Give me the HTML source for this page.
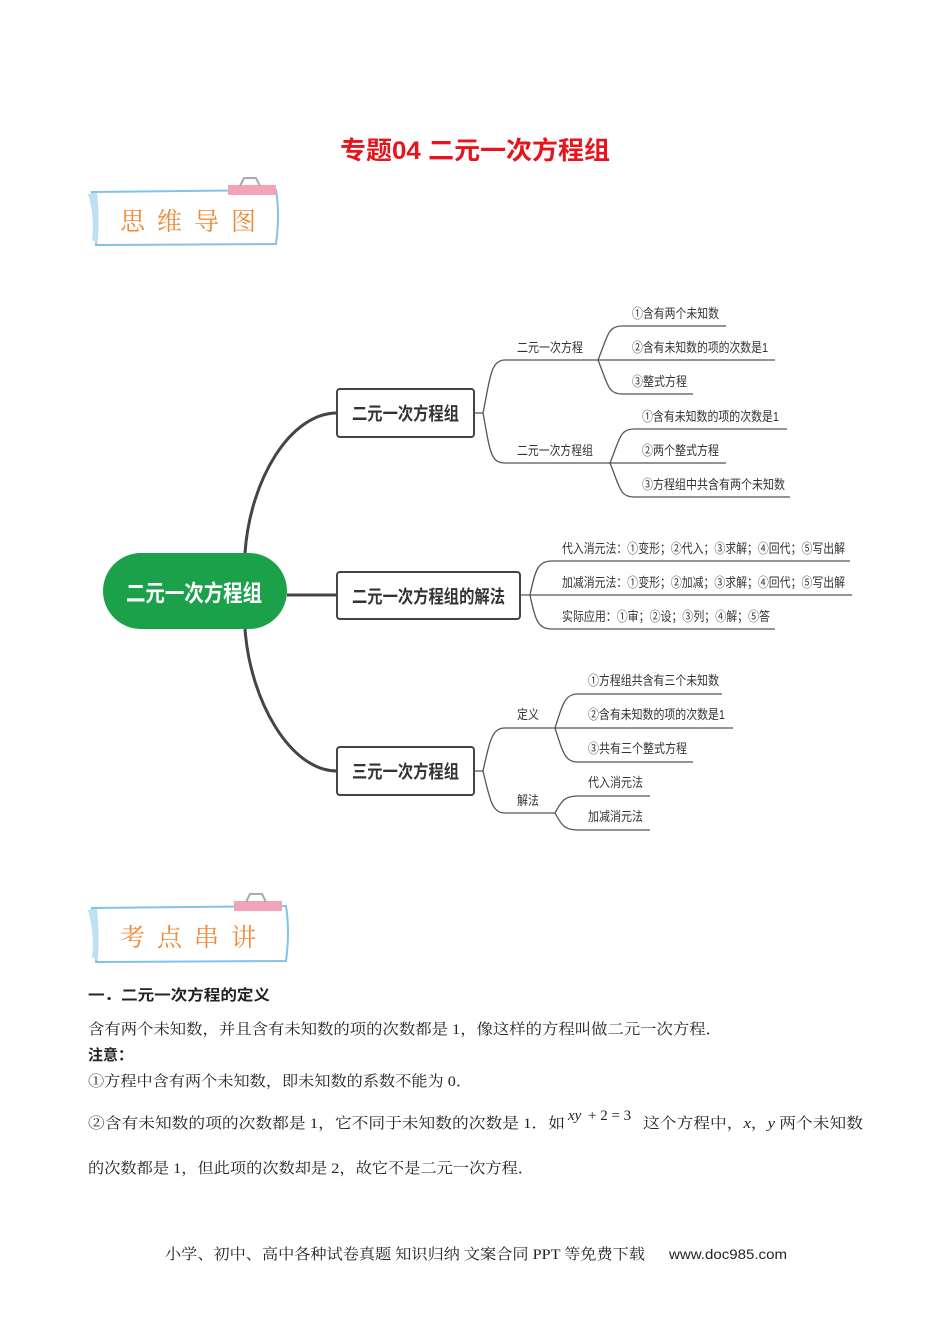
<!DOCTYPE html>
<html><head><meta charset="utf-8"><style>
html,body{margin:0;padding:0;background:#fff;}
svg{display:block;}
.s{font-family:"Liberation Sans","Noto Sans CJK SC",sans-serif;fill:#333;}
.r{font-family:"Liberation Serif","Noto Serif CJK SC",serif;fill:#222;font-size:15px;}
.b{font-family:"Liberation Sans","Noto Sans CJK SC",sans-serif;font-weight:bold;fill:#222;font-size:15px;}
.ban{font-family:"Noto Serif CJK SC",serif;fill:#ee8a3a;font-size:25px;}
</style></head><body>
<svg width="950" height="1344" viewBox="0 0 950 1344" xmlns="http://www.w3.org/2000/svg">
<text x="340" y="159" textLength="270" lengthAdjust="spacingAndGlyphs" font-family="Liberation Sans,Noto Sans CJK SC,sans-serif" font-weight="bold" font-size="25" fill="#e8141c">专题04  二元一次方程组</text>

<!-- banner 1 -->
<g>
<path d="M92 192 L276 190 Q280 215 276 244 L96 245 Q100 218 92 192 Z" fill="#fff" stroke="#7fc3e8" stroke-width="2"/>
<path d="M88 194 L97 193 Q100 218 97 243 L92 240 Q95 218 88 194Z" fill="#bde0f5"/>
<rect x="228" y="185" width="48" height="10" fill="#f3a3b8"/>
<path d="M240 186 L244 178 L256 178 L260 186" fill="none" stroke="#aaa" stroke-width="2"/>
<text x="120" y="230" class="ban" letter-spacing="12">思维导图</text>
</g>

<!-- mind map connectors -->
<g fill="none" stroke="#444" stroke-width="3">
<path d="M245 553 C250 480 290 413 337 413"/>
<path d="M245 629 C250 700 290 771 337 771"/>
<path d="M287 595 L337 595"/>
</g>
<g fill="none" stroke="#555" stroke-width="1.3">
<path d="M474 413 L483 413 C490 380 490 360 505 360 L598 360"/>
<path d="M483 413 C490 450 490 463 505 463 L610 463"/>
<path d="M598 360 C608 335 608 326 622 326 L726 326"/>
<path d="M598 360 L775 360"/>
<path d="M598 360 C608 385 608 394 622 394 L693 394"/>
<path d="M610 463 C620 438 620 429 634 429 L787 429"/>
<path d="M610 463 L726 463"/>
<path d="M610 463 C620 488 620 497 634 497 L790 497"/>
<path d="M520 595 L530 595 C535 570 538 561 552 561 L850 561"/>
<path d="M530 595 L852 595"/>
<path d="M530 595 C535 620 538 629 552 629 L775 629"/>
<path d="M474 771 L483 771 C490 740 492 728 505 728 L555 728"/>
<path d="M483 771 C490 800 492 813 505 813 L555 813"/>
<path d="M555 728 C563 703 565 694 578 694 L722 694"/>
<path d="M555 728 L733 728"/>
<path d="M555 728 C563 753 565 762 578 762 L693 762"/>
<path d="M555 813 C562 800 565 796 578 796 L650 796"/>
<path d="M555 813 C562 826 565 830 578 830 L650 830"/>
</g>
<rect x="103" y="553" width="184" height="76" rx="38" fill="#1aa14a"/>
<text x="126" y="601" textLength="136" lengthAdjust="spacingAndGlyphs" font-family="Liberation Sans,Noto Sans CJK SC,sans-serif" font-weight="bold" font-size="23" fill="#fff">二元一次方程组</text>
<g fill="#fff" stroke="#444" stroke-width="2">
<rect x="337" y="389" width="137" height="48" rx="3"/>
<rect x="337" y="572" width="183" height="47" rx="3"/>
<rect x="337" y="747" width="137" height="48" rx="3"/>
</g>
<g class="s" font-weight="bold" font-size="18">
<text x="352" y="420" textLength="107" lengthAdjust="spacingAndGlyphs">二元一次方程组</text>
<text x="352" y="603" textLength="153" lengthAdjust="spacingAndGlyphs">二元一次方程组的解法</text>
<text x="352" y="778" textLength="107" lengthAdjust="spacingAndGlyphs">三元一次方程组</text>
</g>
<g class="s" font-size="13">
<text x="517" y="352" textLength="66" lengthAdjust="spacingAndGlyphs">二元一次方程</text>
<text x="517" y="455" textLength="76" lengthAdjust="spacingAndGlyphs">二元一次方程组</text>
<text x="632" y="318" textLength="87" lengthAdjust="spacingAndGlyphs">①含有两个未知数</text>
<text x="632" y="352" textLength="136" lengthAdjust="spacingAndGlyphs">②含有未知数的项的次数是1</text>
<text x="632" y="386" textLength="55" lengthAdjust="spacingAndGlyphs">③整式方程</text>
<text x="642" y="421" textLength="137" lengthAdjust="spacingAndGlyphs">①含有未知数的项的次数是1</text>
<text x="642" y="455" textLength="77" lengthAdjust="spacingAndGlyphs">②两个整式方程</text>
<text x="642" y="489" textLength="143" lengthAdjust="spacingAndGlyphs">③方程组中共含有两个未知数</text>
<text x="562" y="553" textLength="283" lengthAdjust="spacingAndGlyphs">代入消元法：①变形；②代入；③求解；④回代；⑤写出解</text>
<text x="562" y="587" textLength="283" lengthAdjust="spacingAndGlyphs">加减消元法：①变形；②加减；③求解；④回代；⑤写出解</text>
<text x="562" y="621" textLength="208" lengthAdjust="spacingAndGlyphs">实际应用：①审；②设；③列；④解；⑤答</text>
<text x="517" y="719" textLength="22" lengthAdjust="spacingAndGlyphs">定义</text>
<text x="517" y="805" textLength="22" lengthAdjust="spacingAndGlyphs">解法</text>
<text x="588" y="685" textLength="131" lengthAdjust="spacingAndGlyphs">①方程组共含有三个未知数</text>
<text x="588" y="719" textLength="137" lengthAdjust="spacingAndGlyphs">②含有未知数的项的次数是1</text>
<text x="588" y="753" textLength="99" lengthAdjust="spacingAndGlyphs">③共有三个整式方程</text>
<text x="588" y="787" textLength="55" lengthAdjust="spacingAndGlyphs">代入消元法</text>
<text x="588" y="821" textLength="55" lengthAdjust="spacingAndGlyphs">加减消元法</text>
</g>

<!-- banner 2 -->
<g>
<path d="M92 908 L286 906 Q290 932 286 961 L96 962 Q100 935 92 908 Z" fill="#fff" stroke="#7fc3e8" stroke-width="2"/>
<path d="M88 910 L97 909 Q100 935 97 960 L92 957 Q95 935 88 910Z" fill="#bde0f5"/>
<rect x="234" y="901" width="48" height="10" fill="#f3a3b8"/>
<path d="M246 902 L250 894 L262 894 L266 902" fill="none" stroke="#aaa" stroke-width="2"/>
<text x="120" y="946" class="ban" letter-spacing="12">考点串讲</text>
</g>

<text x="88" y="1000" class="b" textLength="182" lengthAdjust="spacingAndGlyphs">一．二元一次方程的定义</text>
<text x="88" y="1034" class="r" textLength="634" lengthAdjust="spacingAndGlyphs">含有两个未知数，并且含有未知数的项的次数都是 1，像这样的方程叫做二元一次方程．</text>
<text x="88" y="1060" class="b">注意：</text>
<text x="88" y="1086" class="r" textLength="384" lengthAdjust="spacingAndGlyphs">①方程中含有两个未知数，即未知数的系数不能为 0．</text>
<text x="88" y="1128" class="r" textLength="477" lengthAdjust="spacingAndGlyphs">②含有未知数的项的次数都是 1，它不同于未知数的次数是 1．如</text>
<text x="568" y="1120" class="r" font-style="italic" fill="#555" font-size="17">xy</text>
<text x="588" y="1120" class="r" fill="#555" font-size="17"> + 2 = 3</text>
<text x="643" y="1128" class="r" textLength="220" lengthAdjust="spacingAndGlyphs">这个方程中，<tspan font-style="italic">x</tspan>，<tspan font-style="italic">y</tspan> 两个未知数</text>
<text x="88" y="1173" class="r" textLength="446" lengthAdjust="spacingAndGlyphs">的次数都是 1，但此项的次数却是 2，故它不是二元一次方程．</text>

<text x="165" y="1259" class="r" font-size="14" textLength="480" lengthAdjust="spacingAndGlyphs">小学、初中、高中各种试卷真题  知识归纳  文案合同  PPT 等免费下载</text>
<text x="669" y="1259" font-family="Liberation Sans,sans-serif" font-size="14" fill="#222" textLength="118" lengthAdjust="spacingAndGlyphs">www.doc985.com</text>
</svg>
</body></html>
